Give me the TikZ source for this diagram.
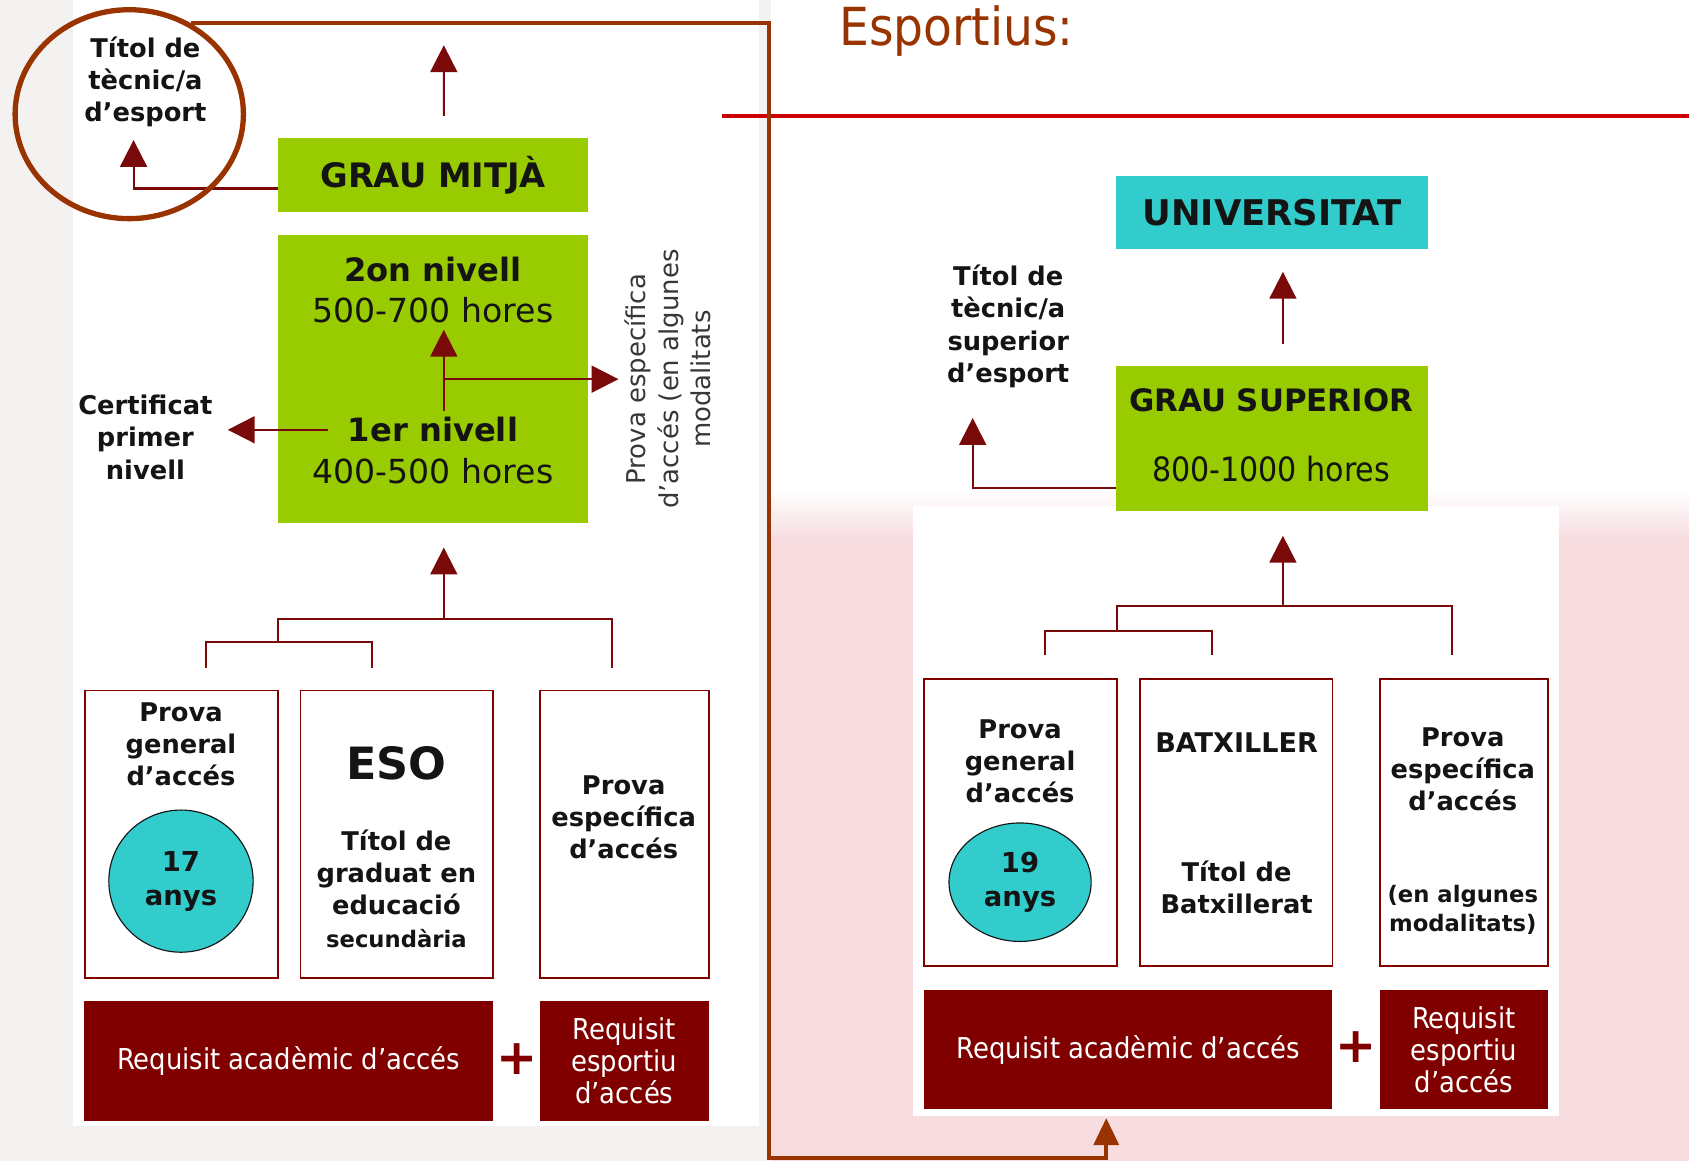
\documentclass[tikz,border=0pt]{standalone}
\usepackage{fontspec}
\setmainfont{DejaVu Sans}
\newfontfamily\condfont{DejaVu Sans Condensed}
\usetikzlibrary{ arrows.meta,      % For the triangle tips
                 shapes.geometric, % For the ellipses
               }
\definecolor{leafgreen}{HTML}{99CC00}
\definecolor{aqua}{HTML}{33CCCC}
\definecolor{wine}{HTML}{800000}
\definecolor{arrowred}{HTML}{7A0A0A}
\definecolor{rust}{HTML}{993300}
\definecolor{rulered}{HTML}{CC0000}
\definecolor{ink}{HTML}{141414}
\definecolor{pinkbg}{HTML}{F7DCE0}
\definecolor{greybg}{HTML}{F4F1F1}
\tikzstyle{greenbox} = [rectangle, fill=leafgreen, inner sep=0pt]
\tikzstyle{aquabox} = [rectangle, fill=aqua, inner sep=0pt]
\tikzstyle{accbox} = [rectangle, draw=wine, line width=0.9pt, fill=white, minimum height=5.34cm]
\tikzstyle{reqbox} = [rectangle, fill=wine, text=white, align=center, inner sep=0pt, font=\condfont\fontsize{15.2}{16.8}\selectfont]
\tikzstyle{age} = [ellipse, draw=ink, line width=0.6pt, fill=aqua, inner sep=0pt, align=center, font=\bfseries\fontsize{14.5}{18}\selectfont, text=ink]
\tikzstyle{lbl} = [align=center, font=\bfseries\fontsize{13.6}{17}\selectfont, text=ink]
\tikzstyle{head} = [font=\bfseries\fontsize{17}{20}\selectfont, text=ink]
\tikzstyle{hours} = [font=\fontsize{17.5}{20}\selectfont, text=ink]
\tikzstyle{conn} = [draw=arrowred, line width=1.1pt]
\tikzstyle{arr} = [conn, -{Triangle[width=0.5cm, length=0.5cm]}]
\tikzstyle{plus} = [font=\bfseries\fontsize{26}{26}\selectfont, text=wine]

\begin{document}
\begin{tikzpicture}[x=0.02cm, y=-0.02cm]
  \useasboundingbox (0,0) rectangle (1568,1078);
  % background
  \fill[white] (0,0) rectangle (1568,1078);
  \fill[greybg] (0,0) rectangle (716,1078);
  \fill[white] (68,0) rectangle (705,1045);
  \fill[pinkbg] (716,500) rectangle (1568,1078);
  \shade[top color=white, bottom color=pinkbg] (716,455) rectangle (1568,501);
  \fill[white] (848,470) rectangle (1447,1036);
  \draw[rulered, line width=2.2pt] (670,108) -- (1568,108);
  \node (esp) [text=rust, font=\condfont\fontsize{27.7}{30}\selectfont] at (888,29) {Esportius:};

  % grau mitja
  \node (tit1) [lbl] at (135,76) {Títol de\\tècnic/a\\d’esport};
  \node (gm) [greenbox, head, font=\bfseries\fontsize{17.8}{20}\selectfont, minimum width=5.76cm, minimum height=1.38cm] at (402,162.5) {GRAU MITJÀ};
  \node (niv) [greenbox, minimum width=5.76cm, minimum height=5.36cm] at (402,352) {};
  \node (n2) [head] at (402,250) {2on nivell};
  \node (h2) [hours] at (402,288) {500-700 hores};
  \node (n1) [head] at (402,399) {1er nivell};
  \node (h1) [hours] at (402,437) {400-500 hores};
  \node (cert) [lbl] at (135,406) {Certificat\\primer\\nivell};
  \node (pe) [rotate=90, align=center, font=\fontsize{13.7}{17}\selectfont, text=ink!85] at (620,352) {Prova específica\\d’accés (en algunes\\modalitats};

  \node (pg1) [accbox, minimum width=3.58cm] at (168.5,774.5) {};
  \node (eso) [accbox, minimum width=3.58cm] at (368.5,774.5) {};
  \node (pe1) [accbox, minimum width=3.14cm] at (579.5,774.5) {};
  \node (pg1t) [lbl] at (168,691) {Prova\\general\\d’accés};
  \node (a17) [age, minimum width=2.68cm, minimum height=2.64cm] at (168,818) {17\\anys};
  \node (esot) [font=\bfseries\fontsize{23.5}{26}\selectfont, text=ink] at (368,709) {ESO};
  \node (gesot) [lbl] at (368,825) {Títol de\\graduat en\\educació\\{\fontsize{12}{17}\selectfont secundària}};
  \node (pe1t) [lbl] at (579,759) {Prova\\específica\\d’accés};
  \node (ra1) [reqbox, minimum width=7.6cm, minimum height=2.24cm] at (268,985) {Requisit acadèmic d’accés};
  \node (pl1) [plus] at (480,983) {+};
  \node (re1) [reqbox, minimum width=3.14cm, minimum height=2.24cm] at (579.5,985) {Requisit\\esportiu\\d’accés};

  \coordinate (gmup) at (412,42);
  \coordinate (t1tip) at (124,130);
  \coordinate (mid1) at (412,352);
  \draw[arr, shorten <=0.4cm] ([xshift=0.2cm]gm.north) -- (gmup);
  \draw[arr] ([yshift=-0.25cm]gm.west) -| (t1tip);
  \draw[arr, shorten <=0.24cm, shorten >=0.16cm] (n1.west) -- (n1.west -| cert.east);
  \draw[arr] ([xshift=0.2cm]n1.north) -- ([xshift=0.2cm]h2.south);
  \draw[arr] (mid1) -- (mid1 -| pe.north);

  \coordinate (ka) at (191,620);
  \coordinate (kb) at (345,620);
  \coordinate (kc) at (568,620);
  \coordinate (km) at (258,596);
  \coordinate (kj) at (412,575);
  \draw[conn] (ka) |- (km) -| (kb);
  \draw[conn] (km) |- (kj) -| (kc);
  \draw[arr, shorten >=0.44cm] (kj) -- (niv.south -| kj);

  % grau superior
  \node (univ) [aquabox, head, font=\bfseries\fontsize{18.7}{20}\selectfont, minimum width=5.8cm, minimum height=1.36cm] at (1181,197) {UNIVERSITAT};
  \node (gs) [greenbox, minimum width=5.8cm, minimum height=2.68cm] at (1181,407) {};
  \node (gst) [head, font=\bfseries\fontsize{16.3}{20}\selectfont] at (1180,372) {GRAU SUPERIOR};
  \node (gsh) [hours, font=\condfont\fontsize{17.7}{20}\selectfont] at (1180,435) {800-1000 hores};
  \node (tit2) [lbl] at (936,303) {Títol de\\tècnic/a\\superior\\d’esport};

  \node (pg2) [accbox, minimum width=3.58cm] at (947.5,763.5) {};
  \node (bat) [accbox, minimum width=3.58cm] at (1147.5,763.5) {};
  \node (pe2) [accbox, minimum width=3.12cm] at (1359,763.5) {};
  \node (pg2t) [lbl] at (947,707) {Prova\\general\\d’accés};
  \node (a19) [age, minimum width=2.64cm, minimum height=2.2cm] at (947,819) {19\\anys};
  \node (batt) [lbl, font=\bfseries\fontsize{14.3}{17}\selectfont] at (1148,689) {BATXILLER};
  \node (batx) [lbl] at (1148,823.5) {Títol de\\Batxillerat};
  \node (pe2t) [lbl] at (1358,714) {Prova\\específica\\d’accés};
  \node (pe2m) [lbl, font=\bfseries\fontsize{12}{15}\selectfont] at (1358,844.5) {(en algunes\\modalitats)};
  \node (ra2) [reqbox, minimum width=7.58cm, minimum height=2.22cm] at (1047.5,974.5) {Requisit acadèmic d’accés};
  \node (pl2) [plus] at (1259,972) {+};
  \node (re2) [reqbox, minimum width=3.12cm, minimum height=2.22cm] at (1359,974.5) {Requisit\\esportiu\\d’accés};

  \coordinate (t2tip) at (903,388);
  \draw[arr, shorten <=0.4cm, shorten >=0.42cm] ([xshift=0.2cm]gs.north) -- ([xshift=0.2cm]univ.south);
  \draw[arr] ([yshift=-0.92cm]gs.west) -| (t2tip);

  \coordinate (la) at (970,608);
  \coordinate (lb) at (1125,608);
  \coordinate (lc) at (1348,608);
  \coordinate (lm) at (1037,586);
  \coordinate (lj) at (1191,563);
  \draw[conn] (la) |- (lm) -| (lb);
  \draw[conn] (lm) |- (lj) -| (lc);
  \draw[arr, shorten >=0.46cm] (lj) -- (gs.south -| lj);

  % ring and loop
  \node (ring) [ellipse, draw=rust, line width=2.8pt, inner sep=0pt, minimum width=4.24cm, minimum height=3.88cm] at (120,106) {};
  \coordinate (loop) at (714,1075);
  \coordinate (looptip) at (1027,1038);
  \draw[rust, line width=2.2pt, -{Triangle[width=0.46cm, length=0.5cm]}] (ring.56) -| (loop) -| (looptip);
\end{tikzpicture}
\end{document}
